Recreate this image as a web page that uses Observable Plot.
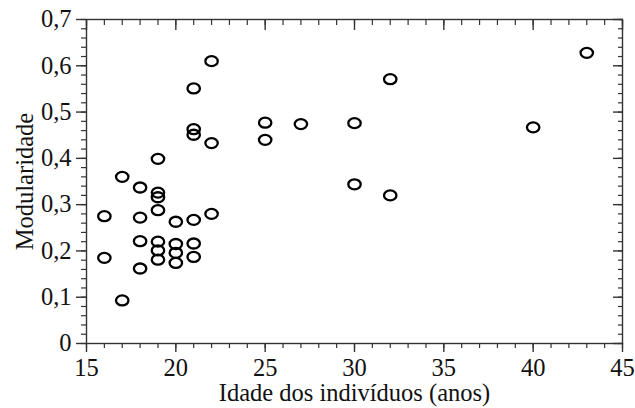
<!DOCTYPE html>
<html>
<head>
<meta charset="utf-8">
<script src="https://cdn.jsdelivr.net/npm/d3@7"></script>
<script src="https://cdn.jsdelivr.net/npm/@observablehq/plot@0.6"></script>
<style>
  html, body { margin: 0; padding: 0; background: #fff; }
  #chart svg { display: block; }
</style>
</head>
<body>
<div id="chart"></div>
<script>
const ages = [16, 16, 17, 17, 18, 18, 18, 18, 19, 19, 19, 19, 19, 19, 19, 20, 20, 20, 20, 21, 21, 21, 21, 21, 21, 22, 22, 22, 25, 25, 27, 30, 30, 32, 32, 40, 43];
const modularity = [0.275, 0.185, 0.360, 0.093, 0.337, 0.272, 0.221, 0.162, 0.399, 0.326, 0.316, 0.288, 0.220, 0.201, 0.181, 0.263, 0.215, 0.196, 0.174, 0.551, 0.463, 0.451, 0.267, 0.216, 0.187, 0.610, 0.433, 0.280, 0.477, 0.440, 0.474, 0.476, 0.344, 0.571, 0.320, 0.467, 0.628];
const xMajorTicks = [15, 20, 25, 30, 35, 40, 45];
const xMinorTicks = d3.range(15, 46, 1);
const yMajorTicks = [0, 0.1, 0.2, 0.3, 0.4, 0.5, 0.6, 0.7];
const yMinorTicks = d3.range(0, 36).map(i => +(i * 0.02).toFixed(2));
const xLabel = "Idade dos indivíduos (anos)";
const yLabel = "Modularidade";

const data = ages.map((a, i) => ({age: a, mod: modularity[i]}));
const fmtY = d => d === 0 ? "0" : d.toFixed(1).replace(".", ",");

const ellipseSymbol = {
  draw(context, size) {
    const rx = 6.2, ry = 5.0, k = 0.5523;
    context.moveTo(rx, 0);
    context.bezierCurveTo(rx, k * ry, k * rx, ry, 0, ry);
    context.bezierCurveTo(-k * rx, ry, -rx, k * ry, -rx, 0);
    context.bezierCurveTo(-rx, -k * ry, -k * rx, -ry, 0, -ry);
    context.bezierCurveTo(k * rx, -ry, rx, -k * ry, rx, 0);
    context.closePath();
  }
};

const axisColor = "#333";
const serif = "'Liberation Serif', 'Times New Roman', Times, serif";
const fs = 24.5;

const chart = Plot.plot({
  width: 635,
  height: 408,
  marginLeft: 86,
  marginRight: 13,
  marginTop: 19,
  marginBottom: 65,
  style: {fontFamily: serif, fontSize: fs + "px", color: "#111", background: "#fff"},
  x: {domain: [15, 45]},
  y: {domain: [0, 0.7]},
  marks: [
    Plot.frame({stroke: axisColor, strokeWidth: 1.4}),
    Plot.axisX({anchor: "bottom", ticks: xMinorTicks, tickSize: 5, text: null, stroke: axisColor, strokeWidth: 1.2, label: null}),
    Plot.axisX({anchor: "bottom", ticks: xMajorTicks, tickSize: 9, tickPadding: 6, tickFormat: d => String(d), stroke: axisColor, strokeWidth: 1.4,
      fill: "#111", fontSize: fs, fontFamily: serif, label: xLabel, labelAnchor: "center", labelOffset: 57, labelArrow: "none"}),
    Plot.axisX({anchor: "top", ticks: xMinorTicks, tickSize: -5, text: null, stroke: axisColor, strokeWidth: 1.2, label: null}),
    Plot.axisX({anchor: "top", ticks: xMajorTicks, tickSize: -10, text: null, stroke: axisColor, strokeWidth: 1.4, label: null}),
    Plot.axisY({anchor: "left", ticks: yMinorTicks, tickSize: 5, text: null, stroke: axisColor, strokeWidth: 1.2, label: null}),
    Plot.axisY({anchor: "left", ticks: yMajorTicks, tickSize: 10, tickPadding: 5, tickFormat: fmtY, stroke: axisColor, strokeWidth: 1.4,
      fill: "#111", fontSize: fs, fontFamily: serif, label: yLabel, labelAnchor: "center", labelOffset: 71, labelArrow: "none"}),
    Plot.axisY({anchor: "right", ticks: yMinorTicks, tickSize: -5, text: null, stroke: axisColor, strokeWidth: 1.2, label: null}),
    Plot.axisY({anchor: "right", ticks: yMajorTicks, tickSize: -10, text: null, stroke: axisColor, strokeWidth: 1.4, label: null}),
    Plot.dot(data, {x: "age", y: "mod", symbol: ellipseSymbol, stroke: "#000", strokeWidth: 2.3, fill: "none"})
  ]
});
document.getElementById("chart").appendChild(chart);
</script>
</body>
</html>
